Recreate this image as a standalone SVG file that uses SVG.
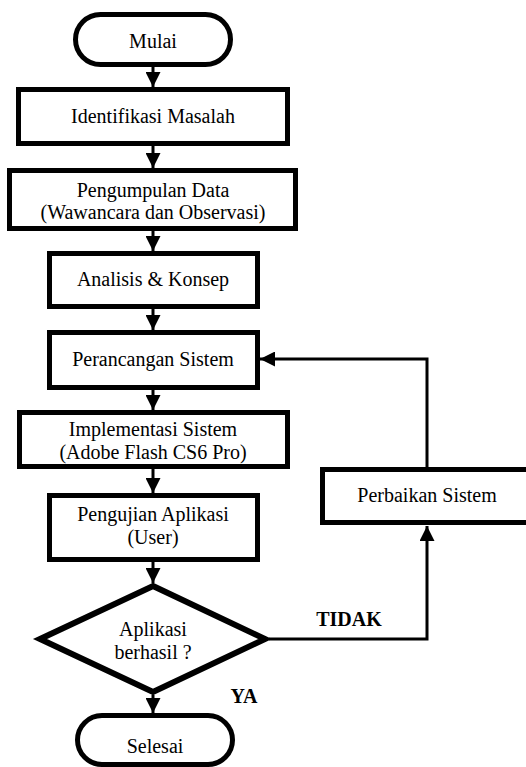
<svg xmlns="http://www.w3.org/2000/svg" width="526" height="767" viewBox="0 0 526 767">
<style>
.box{fill:#fff;stroke:#000;stroke-width:5}
.dia{fill:#fff;stroke:#000;stroke-width:6;stroke-linejoin:miter}
text{font-family:"Liberation Serif","Times New Roman",serif;font-size:20px;fill:#000;text-anchor:middle}
.b{font-weight:bold}
.c{fill:none;stroke:#000;stroke-width:3}
</style>
<defs>
<marker id="ah" markerUnits="userSpaceOnUse" markerWidth="15" markerHeight="15" refX="15" refY="7.5" orient="auto">
<path d="M0,0 L15,7.5 L0,15 z" fill="#000"/>
</marker>
</defs>
<rect width="526" height="767" fill="#fff"/>
<g id="connectors">
<line class="c" x1="153" y1="67" x2="153" y2="87" marker-end="url(#ah)"/>
<line class="c" x1="153" y1="146" x2="153" y2="168" marker-end="url(#ah)"/>
<line class="c" x1="153" y1="231" x2="153" y2="251" marker-end="url(#ah)"/>
<line class="c" x1="153" y1="309" x2="153" y2="330" marker-end="url(#ah)"/>
<line class="c" x1="153" y1="390" x2="153" y2="410" marker-end="url(#ah)"/>
<line class="c" x1="153" y1="469" x2="153" y2="493" marker-end="url(#ah)"/>
<line class="c" x1="153" y1="562" x2="153" y2="583" marker-end="url(#ah)"/>
<line class="c" x1="153" y1="695" x2="153" y2="713" marker-end="url(#ah)"/>
<path class="c" d="M269,639 H427 V526" marker-end="url(#ah)"/>
<path class="c" d="M427,467 V359 H260" marker-end="url(#ah)"/>
<text class="b" x="349" y="626">TIDAK</text>
<text class="b" x="244" y="703">YA</text>
</g>
<g id="mulai">
<rect class="box" x="75.5" y="14.5" width="155" height="50" rx="25"/>
<text x="153" y="48">Mulai</text>
</g>
<g id="identifikasi">
<rect class="box" x="18.5" y="89.5" width="269" height="54"/>
<text x="153" y="123">Identifikasi Masalah</text>
</g>
<g id="pengumpulan">
<rect class="box" x="9.5" y="170.5" width="286" height="58"/>
<text x="153" y="197">Pengumpulan Data</text>
<text x="153" y="219">(Wawancara dan Observasi)</text>
</g>
<g id="analisis">
<rect class="box" x="49.5" y="253.5" width="208" height="53"/>
<text x="153" y="286">Analisis &amp; Konsep</text>
</g>
<g id="perancangan">
<rect class="box" x="49.5" y="332.5" width="208" height="55"/>
<text x="153" y="366">Perancangan Sistem</text>
</g>
<g id="implementasi">
<rect class="box" x="19.5" y="412.5" width="268" height="54"/>
<text x="153" y="436">Implementasi Sistem</text>
<text x="153" y="459">(Adobe Flash CS6 Pro)</text>
</g>
<g id="pengujian">
<rect class="box" x="49.5" y="495.5" width="208" height="64"/>
<text x="153" y="521">Pengujian Aplikasi</text>
<text x="153" y="544">(User)</text>
</g>
<g id="keputusan">
<polygon class="dia" points="153,586 265,639 153,692 40,639"/>
<text x="153" y="636">Aplikasi</text>
<text x="153" y="659">berhasil ?</text>
</g>
<g id="perbaikan">
<rect class="box" x="322.5" y="469.5" width="210" height="53"/>
<text x="427" y="502">Perbaikan Sistem</text>
</g>
<g id="selesai">
<rect class="box" x="77.5" y="715.5" width="155" height="49" rx="24.5"/>
<text x="155" y="753">Selesai</text>
</g>
</svg>
